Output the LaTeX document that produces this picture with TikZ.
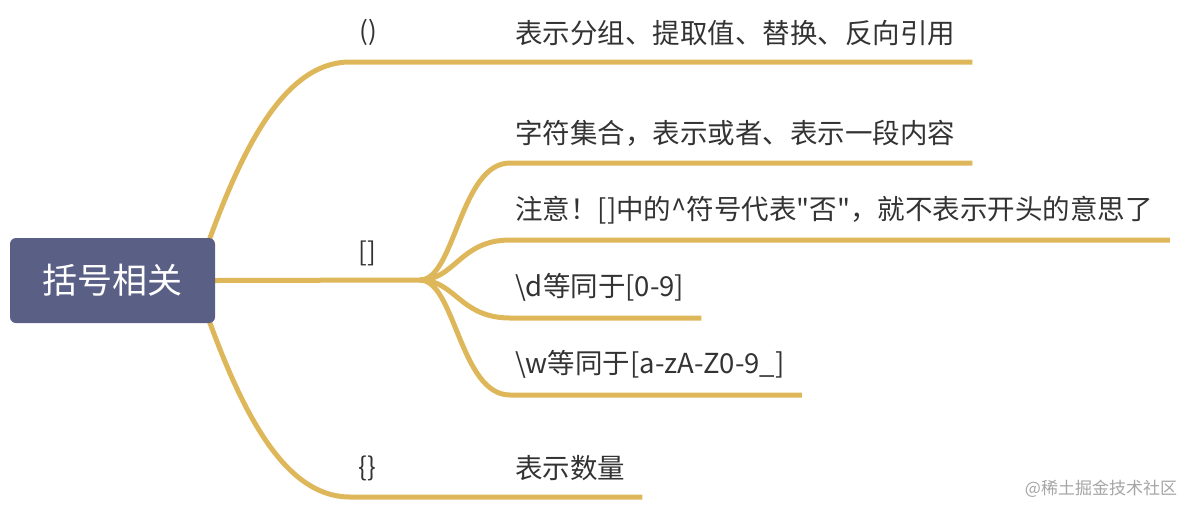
\documentclass[tikz,border=0pt]{standalone}
\usepackage{fontspec}
\setmainfont{Noto Sans CJK SC}[Ligatures=TeXOff]
\usetikzlibrary{backgrounds}
\definecolor{topicblue}{RGB}{90,95,134}
\definecolor{branchgold}{RGB}{222,183,90}
\definecolor{textgrey}{RGB}{51,51,51}
\definecolor{markgrey}{RGB}{165,165,165}
\begin{document}
\begin{tikzpicture}[x=1pt,y=-1pt,line cap=round,
  topic/.style={fill=topicblue,rounded corners=6pt,minimum width=205pt,minimum height=85pt,
    text=white,font=\fontsize{35}{40}\selectfont},
  tagtext/.style={text=textgrey,font=\fontsize{26}{30}\selectfont},
  leaftext/.style={anchor=south west,inner xsep=5pt,inner ysep=16pt,text=textgrey,
    font=\fontsize{27.5}{32}\selectfont},
  branch/.style={draw=branchgold,line width=5pt}]
  \useasboundingbox (0,0) rectangle (1188,504);
  \node[topic] (root) at (112.5,280.5) {括号相关};
  % first level
  \node[tagtext] (paren) at (368,32) {()};
  \node[tagtext] (brack) at (367,253) {[]};
  \node[tagtext] (brace) at (367,468) {\{\}};
  \node[leaftext] (grp) at (510,62) {表示分组、提取值、替换、反向引用};
  \node[leaftext] (num) at (510,497) {表示数量};
  \coordinate (fork) at (420,280);
  % second level under []
  \foreach \n/\y/\txt in {s1/163/{字符集合，表示或者、表示一段内容},
      s2/240/{注意！[]中的\textasciicircum 符号代表"否"，就不表示开头的意思了},
      s3/318/{\textbackslash d等同于[0-9]},
      s4/395/{\textbackslash w等同于[a-zA-Z0-9\_]}}
    \node[leaftext] (\n) at (510,\y) {\txt};
  \node[text=markgrey,font=\fontsize{17}{20}\selectfont] (wm) at (1101,489) {@稀土掘金技术社区};
  \begin{scope}[on background layer]
    \draw[branch] ([xshift=-20pt]root.east) .. controls +(40,-120) and +(-70,0) ..
      ([xshift=-160pt]grp.south west) -- ([xshift=12pt]grp.south east);
    \draw[branch] ([xshift=-20pt]root.east) .. controls +(40,120) and +(-70,0) ..
      ([xshift=-160pt]num.south west) -- ([xshift=12pt]num.south east);
    \draw[branch] (root.east) -- (fork);
    \foreach \n in {s1,s2,s3,s4}
      \draw[branch] (fork) .. controls +(35,0) and +(-50,0) .. (\n.south west)
        -- ([xshift=12pt]\n.south east);
  \end{scope}
\end{tikzpicture}
\end{document}
